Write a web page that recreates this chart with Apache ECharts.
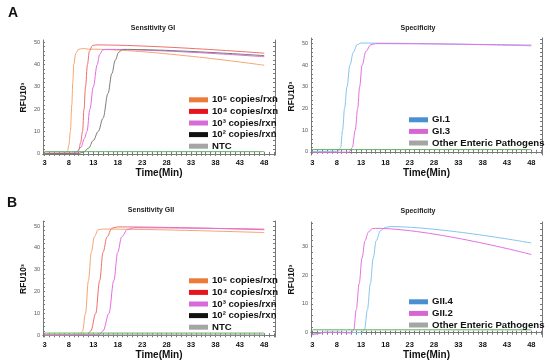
<!DOCTYPE html>
<html>
<head>
<meta charset="utf-8">
<script src="https://cdn.jsdelivr.net/npm/echarts@6/dist/echarts.min.js"></script>
<style>
html,body{margin:0;padding:0;background:#fff;}
#chart{width:550px;height:363px;}
</style>
</head>
<body>
<div id="chart"></div>
<script>
// ---------- DATA ----------
const xTickLabels = [3, 8, 13, 18, 23, 28, 33, 38, 43, 48];
const yTickLabelsA = [0, 10, 20, 30, 40, 50];
const yTickLabelsB2 = [0, 10, 20, 30];

const sensLegend = ['10\u2075 copies/rxn', '10\u2074 copies/rxn', '10\u00b3 copies/rxn', '10\u00b2 copies/rxn', 'NTC'];
const specLegendA = ['GI.1', 'GI.3', 'Other Enteric Pathogens'];
const specLegendB = ['GII.4', 'GII.2', 'Other Enteric Pathogens'];

// Panel A - Sensitivity GI  [time(min), RFU x10^3]
const gi_e5 = [[3,0.3],[7.3,0.3],[7.7,1],[8.0,4],[8.3,10],[8.6,22],[8.8,32],[9.0,40],[9.4,45],[10.0,46.8],[10.8,47.2],[12,46.9],[48,39.7]];
const gi_e4 = [[3,0.2],[9.5,0.3],[10,1.5],[10.4,5],[10.8,10],[11.1,20],[11.4,30],[11.8,40],[12.2,46],[12.8,48.5],[13.5,48.8],[48,45.1]];
const gi_e3 = [[3,0.2],[9,0.3],[9.6,1],[10.5,3],[11.2,7],[11.7,10],[12.3,20],[13,30],[13.8,40],[14.3,44.5],[14.9,46.5],[15.5,46.8],[48,43.5]];
const gi_e2 = [[3,0.1],[10,0.2],[11,0.8],[12,2.5],[13,6],[14,10],[15,16],[16,27],[16.8,36],[17.5,42],[18.2,45.5],[19,46.8],[48,44]];
const gi_ntc = [[3,1.0],[48,1.0]];

// Panel A - Specificity
const gi1 = [[3,0.1],[8.3,0.2],[8.8,2],[9.2,10],[9.6,20],[10.1,30],[10.7,40],[11.4,46],[12.2,49.5],[13,50.3],[16,50.2],[48,49]];
const gi3 = [[3,-0.3],[10.5,-0.2],[11.2,2],[11.8,10],[12.3,20],[12.7,30],[13.2,40],[14,46.5],[15,49.5],[16,50],[48,49.3]];
const giOther = [[3,1.0],[48,1.0]];

// Panel B - Sensitivity GII
const gii_e5 = [[3,0.2],[10.3,0.3],[10.8,2],[11.4,10],[12,25],[12.6,38],[13.2,45],[14,48.3],[15,48.6],[48,47]];
const gii_e4 = [[3,0.2],[11.8,0.3],[12.5,2],[13.5,10],[14.3,25],[15,38],[15.8,45],[16.8,49],[18,49.6],[48,48.3]];
const gii_e3 = [[3,0.1],[14.2,0.3],[15,2],[16.2,10],[17.2,25],[18,38],[18.8,45],[20,48.5],[21.5,49.2],[48,48.6]];
const gii_e2 = [[3,0.2],[48,0.2]];
const gii_ntc = [[3,1.0],[48,1.0]];

// Panel B - Specificity
const gii4 = [[3,-0.5],[4,-0.2],[5.5,0.2],[9,0.2],[12.5,0],[13.2,0.2],[13.7,1],[14.3,8],[14.9,17],[15.5,26],[16.1,32],[17,35.5],[18,36.6],[19,36.9],[48,31.2]];
const gii2 = [[3,-0.8],[4,-0.4],[5.5,0.1],[8,0.1],[11,-0.1],[11.5,1],[12,8],[12.6,17],[13.2,26],[13.8,32],[14.5,35],[15.3,36.2],[16,36.3],[48,27.2]];
const giiOther = [[3,1.0],[48,1.0]];

// ---------- STYLE / LAYOUT ----------
const FONT = 'Liberation Sans, Arial, Helvetica, sans-serif';
const legendColors = {
  '10\u2075 copies/rxn': '#EE7A3A', '10\u2074 copies/rxn': '#E8141C', '10\u00b3 copies/rxn': '#D76BD8',
  '10\u00b2 copies/rxn': '#111111', 'NTC': '#A5A5A5',
  'GI.1': '#4A90D0', 'GI.3': '#D865D4', 'GII.4': '#4A90D0', 'GII.2': '#D865D4',
  'Other Enteric Pathogens': '#A5A5A5'
};

const minorX = []; for (let v = 3; v <= 50; v++) minorX.push(v);
function minorY(max) { const a = []; for (let v = 0; v <= max; v += 2) a.push(v); return a; }

const panels = [
  {left: 43, top: 40, width: 232, height: 115, ymin: -0.5, ymax: 51, yLabels: yTickLabelsA},
  {left: 311, top: 38, width: 231, height: 117, ymin: -1.5, ymax: 52.6, yLabels: yTickLabelsA},
  {left: 43, top: 221, width: 232, height: 116, ymin: -0.8, ymax: 52.3, yLabels: yTickLabelsA},
  {left: 311, top: 222, width: 231, height: 115, ymin: -1.5, ymax: 38.5, yLabels: yTickLabelsB2}
];

const grid = [], xAxis = [], yAxis = [];
const axisLineStyle = {color: '#777', width: 1};
panels.forEach((p, i) => {
  grid.push({left: p.left, top: p.top, width: p.width, height: p.height, containLabel: false});
  const xmin = 2.7, xmax = 50.2;
  xAxis.push({
    type: 'value', gridIndex: i, min: xmin, max: xmax, position: 'bottom',
    axisLine: {show: true, lineStyle: axisLineStyle},
    axisTick: {show: true, customValues: minorX, length: 2, inside: true, lineStyle: {color: '#777'}},
    axisLabel: {customValues: xTickLabels, fontSize: 7.5, fontWeight: 'bold', color: '#111', margin: 4, fontFamily: FONT},
    splitLine: {show: false},
    name: 'Time(Min)', nameLocation: 'middle', nameGap: 12,
    nameTextStyle: {fontSize: 10, fontWeight: 'bold', color: '#111', fontFamily: FONT}
  });
  xAxis.push({
    type: 'value', gridIndex: i, min: xmin, max: xmax, position: 'top',
    axisLine: {show: true, lineStyle: axisLineStyle},
    axisTick: {show: true, customValues: minorX, length: 2, inside: true, lineStyle: {color: '#777'}},
    axisLabel: {show: false}, splitLine: {show: false}
  });
  yAxis.push({
    type: 'value', gridIndex: i, min: p.ymin, max: p.ymax, position: 'left',
    axisLine: {show: true, lineStyle: axisLineStyle},
    axisTick: {show: true, customValues: minorY(p.ymax), length: 2, inside: true, lineStyle: {color: '#777'}},
    axisLabel: {customValues: p.yLabels, fontSize: 5.5, color: '#555', margin: 3, fontFamily: FONT},
    splitLine: {show: false},
    name: 'RFU10\u00b3', nameLocation: 'middle', nameGap: 15, nameRotate: 90,
    nameTextStyle: {fontSize: 8.5, fontWeight: 'bold', color: '#111', fontFamily: FONT}
  });
  yAxis.push({
    type: 'value', gridIndex: i, min: p.ymin, max: p.ymax, position: 'right',
    axisLine: {show: true, lineStyle: axisLineStyle},
    axisTick: {show: true, customValues: minorY(p.ymax), length: 2, inside: true, lineStyle: {color: '#777'}},
    axisLabel: {show: false}, splitLine: {show: false}
  });
});

function line(name, data, panel, color, z) {
  return {
    type: 'line', name: name, data: data,
    xAxisIndex: panel * 2, yAxisIndex: panel * 2,
    showSymbol: false, symbol: 'none', smooth: 0.35, smoothMonotone: 'x',
    itemStyle: {color: legendColors[name]},
    lineStyle: {color: color, width: 1},
    z: z || 2, animation: false
  };
}

const series = [
  line(sensLegend[0], gi_e5, 0, '#F5A572'),
  line(sensLegend[1], gi_e4, 0, '#EF6F6C'),
  line(sensLegend[2], gi_e3, 0, '#E46BE1'),
  line(sensLegend[3], gi_e2, 0, '#7A7A7A'),
  line(sensLegend[4], gi_ntc, 0, '#5DAF5D', 3),
  line(specLegendA[0], gi1, 1, '#85C5EF'),
  line(specLegendA[1], gi3, 1, '#E56FE2'),
  line(specLegendA[2], giOther, 1, '#5DAF5D', 3),
  line(sensLegend[0], gii_e5, 2, '#F5A572'),
  line(sensLegend[1], gii_e4, 2, '#EF6F6C'),
  line(sensLegend[2], gii_e3, 2, '#E46BE1'),
  line(sensLegend[3], gii_e2, 2, '#AAAAAA'),
  line(sensLegend[4], gii_ntc, 2, '#5DAF5D', 3),
  line(specLegendB[0], gii4, 3, '#85C5EF'),
  line(specLegendB[1], gii2, 3, '#E56FE2'),
  line(specLegendB[2], giiOther, 3, '#5DAF5D', 3)
];

function legend(names, left, top) {
  return {
    data: names.map(n => ({name: n, itemStyle: {color: legendColors[n]}})),
    orient: 'vertical', left: left, top: top, padding: 0, itemGap: 0,
    icon: 'rect', itemWidth: 19, itemHeight: 5, selectedMode: false,
    textStyle: {fontSize: 9.6, fontWeight: 'bold', color: '#111', fontFamily: FONT, lineHeight: 11.6, padding: [0, 0, 0, -1]}
  };
}

const titleStyle = {fontSize: 7, fontWeight: 'bold', color: '#222', fontFamily: FONT};
const option = {
  backgroundColor: '#fff',
  animation: false,
  title: [
    {text: 'A', left: 8, top: 6, padding: 0, textStyle: {fontSize: 14, fontWeight: 'bold', color: '#111', fontFamily: FONT}},
    {text: 'B', left: 7, top: 196, padding: 0, textStyle: {fontSize: 14, fontWeight: 'bold', color: '#111', fontFamily: FONT}},
    {text: 'Sensitivity GI', left: 153, top: 25, padding: 0, textAlign: 'center', textStyle: titleStyle},
    {text: 'Specificity', left: 418, top: 25, padding: 0, textAlign: 'center', textStyle: titleStyle},
    {text: 'Sensitivity GII', left: 151, top: 207, padding: 0, textAlign: 'center', textStyle: titleStyle},
    {text: 'Specificity', left: 418, top: 208, padding: 0, textAlign: 'center', textStyle: titleStyle}
  ],
  legend: [
    legend(sensLegend, 189, 94),
    legend(specLegendA, 409, 114),
    legend(sensLegend, 189, 275),
    legend(specLegendB, 409, 296)
  ],
  grid: grid, xAxis: xAxis, yAxis: yAxis, series: series
};

const chart = echarts.init(document.getElementById('chart'), null, {renderer: 'canvas'});
chart.setOption(option);
</script>
</body>
</html>
